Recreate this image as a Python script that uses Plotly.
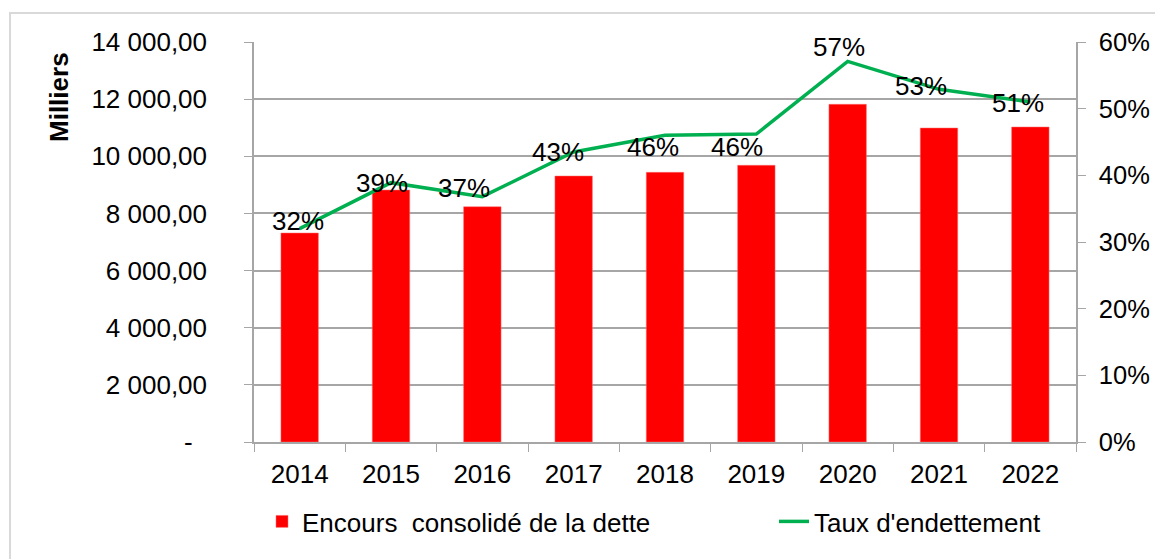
import plotly.graph_objects as go

years = ["2014", "2015", "2016", "2017", "2018", "2019", "2020", "2021", "2022"]
encours = [7315, 8820, 8236, 9310, 9438, 9685, 11819, 10990, 11025]
taux = [0.320, 0.389, 0.368, 0.435, 0.460, 0.462, 0.571, 0.529, 0.510]
taux_labels = ["32%", "39%", "37%", "43%", "46%", "46%", "57%", "53%", "51%"]

left_tickvals = [0, 2000, 4000, 6000, 8000, 10000, 12000, 14000]
left_ticktext = ["-\u00a0\u00a0", "2 000,00", "4 000,00", "6 000,00", "8 000,00",
                 "10 000,00", "12 000,00", "14 000,00"]
right_tickvals = [0, 0.1, 0.2, 0.3, 0.4, 0.5, 0.6]
right_ticktext = ["0%", "10%", "20%", "30%", "40%", "50%", "60%"]

# label offsets (pixels) relative to each point: style only
label_dx = [-2, -9, -18, -16, -12, -19, -9, -18, -12]
label_dy = [8, 0, 9, 0, -12, -13, 14, 3, -1]

FONT = "Liberation Sans, Arial, sans-serif"
GRID = "#a6a6a6"
W, H = 1155, 559
L, R, T, B = 254, 79, 42, 117
pw, ph = W - L - R, H - T - B


def px_x(p):
    return (p - L) / pw


def px_y(p):
    return (H - B - p) / ph


fig = go.Figure()
fig.add_trace(go.Bar(
    x=years, y=encours, name="Encours  consolidé de la dette",
    marker=dict(color="#ff0000", line=dict(color="#ff7070", width=0.5)),
    yaxis="y", legend="legend",
))
fig.add_trace(go.Scatter(
    x=years, y=taux, name="Taux d'endettement", mode="lines",
    line=dict(color="#00b050", width=3.5), yaxis="y2", legend="legend2",
))

for i, (v, t, dx, dy) in enumerate(zip(taux, taux_labels, label_dx, label_dy)):
    fig.add_annotation(x=i, y=v, xref="x", yref="y2", text=t, showarrow=False,
                       xanchor="center", yanchor="middle", xshift=dx, yshift=dy,
                       font=dict(size=26, color="black", family=FONT))

fig.add_annotation(x=px_x(59), y=px_y(97), xref="paper", yref="paper",
                   xanchor="center", yanchor="middle",
                   text="<b>Milliers</b>", showarrow=False, textangle=-90,
                   font=dict(size=26, color="black", family=FONT))

# outer border
fig.add_shape(type="rect", xref="paper", yref="paper",
              x0=px_x(10), x1=px_x(W + 10), y0=px_y(H + 10), y1=px_y(13),
              line=dict(color="#d9d9d9", width=2), layer="below")

legend_common = dict(orientation="h", xanchor="left", yanchor="top",
                     font=dict(size=26, family=FONT, color="black"),
                     bgcolor="rgba(0,0,0,0)", borderwidth=0)

fig.update_layout(
    width=W, height=H,
    margin=dict(l=L, r=R, t=T, b=B, autoexpand=False),
    paper_bgcolor="white", plot_bgcolor="white",
    font=dict(family=FONT, size=26, color="black"),
    bargap=0.59,
    showlegend=True,
    legend=dict(x=px_x(262), y=px_y(498), **legend_common),
    legend2=dict(x=px_x(774), y=px_y(498), **legend_common),
    xaxis=dict(type="category", range=[-0.5, len(years) - 0.5], showgrid=False,
               showline=True, linecolor=GRID, linewidth=1.5, ticks="outside",
               tickson="boundaries", ticklen=8, tickcolor=GRID,
               tickfont=dict(size=26), tickangle=0, automargin=False,
               ticklabelstandoff=8),
    yaxis=dict(range=[0, 14000], tickvals=left_tickvals, ticktext=left_ticktext,
               showgrid=True, gridcolor=GRID, gridwidth=1.5, showline=True,
               linecolor=GRID, linewidth=1.5, ticks="outside", ticklen=8,
               tickcolor=GRID, tickfont=dict(size=26), zeroline=False,
               ticklabelstandoff=32, automargin=False),
    yaxis2=dict(range=[0, 0.6], tickvals=right_tickvals, ticktext=right_ticktext,
                overlaying="y", side="right", showgrid=False, showline=True,
                linecolor=GRID, linewidth=1.5, ticks="outside", ticklen=8,
                tickcolor=GRID, tickfont=dict(size=25.5), zeroline=False,
                ticklabelstandoff=8, automargin=False),
)

fig.write_html("out.html", config={"displayModeBar": False},
               post_script="document.body.style.margin='0';document.body.style.overflow='hidden';")
